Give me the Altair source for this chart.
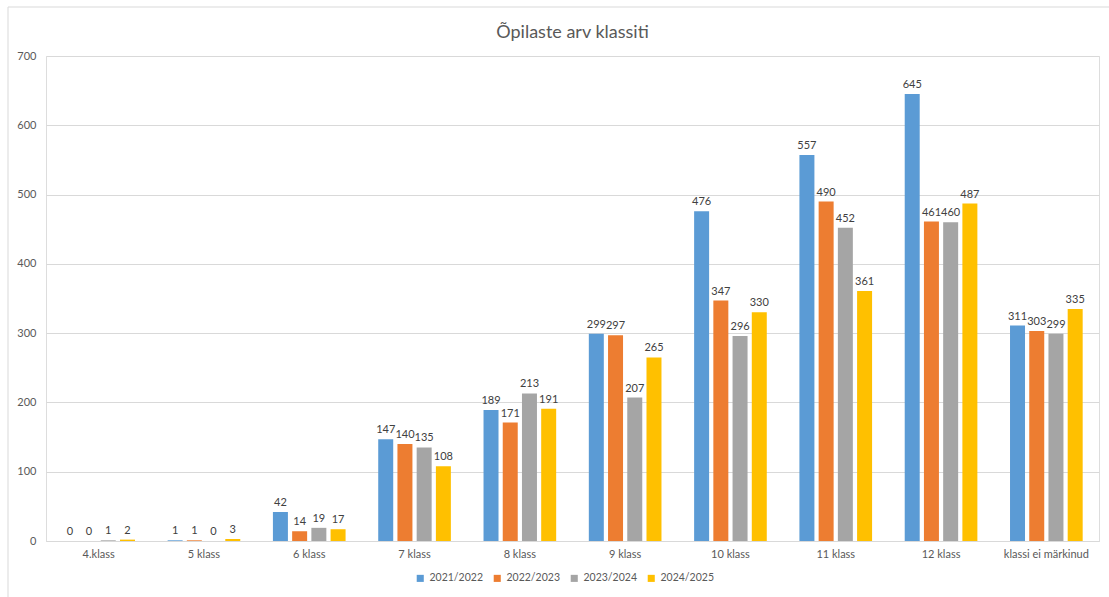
import altair as alt
import pandas as pd

# Student counts per grade, one series per school year
grades = ["4.klass", "5 klass", "6 klass", "7 klass", "8 klass", "9 klass",
          "10 klass", "11 klass", "12 klass", "klassi ei märkinud"]
years = ["2021/2022", "2022/2023", "2023/2024", "2024/2025"]
y2021 = [0, 1, 42, 147, 189, 299, 476, 557, 645, 311]
y2022 = [0, 1, 14, 140, 171, 297, 347, 490, 461, 303]
y2023 = [1, 0, 19, 135, 213, 207, 296, 452, 460, 299]
y2024 = [2, 3, 17, 108, 191, 265, 330, 361, 487, 335]
colors = ["#5B9BD5", "#ED7D31", "#A5A5A5", "#FFC000"]

rows = []
for year, series in zip(years, [y2021, y2022, y2023, y2024]):
    for g, v in zip(grades, series):
        rows.append({"klass": g, "aasta": year, "arv": v})
df = pd.DataFrame(rows)

FONT = "Lato"
TXT = "#595959"

x_enc = alt.X("klass:N", sort=grades, title=None,
              scale=alt.Scale(paddingInner=0.31, paddingOuter=0.155),
              axis=alt.Axis(labelAngle=0, labelPadding=7, ticks=False,
                            domainColor="#D9D9D9", labelColor=TXT,
                            labelFontSize=11, labelFont=FONT))
xo_enc = alt.XOffset("aasta:N", sort=years, scale=alt.Scale(paddingInner=0.22))
y_enc = alt.Y("arv:Q", title=None,
              scale=alt.Scale(domain=[0, 700]),
              axis=alt.Axis(values=list(range(0, 701, 100)), domain=False,
                            ticks=False, labelPadding=10, gridColor="#D9D9D9",
                            labelColor=TXT, labelFontSize=11, labelFont=FONT))

# light frame around the whole chart
frame = alt.Chart(pd.DataFrame({"a": [0]})).mark_rect(
    fillOpacity=0, stroke="#D9D9D9", strokeWidth=1
).encode(x=alt.value(-38), x2=alt.value(1070), y=alt.value(-49), y2=alt.value(560))

bars = alt.Chart(df).mark_bar().encode(
    x=x_enc, xOffset=xo_enc, y=y_enc,
    color=alt.Color("aasta:N", sort=years,
                    scale=alt.Scale(domain=years, range=colors),
                    legend=alt.Legend(title=None, orient="none", direction="horizontal",
                                      legendX=369, legendY=517,
                                      symbolType="square", symbolSize=50,
                                      symbolStrokeWidth=0, labelFontSize=10.5,
                                      labelColor=TXT, labelFont=FONT,
                                      columnPadding=9)),
)

labels = alt.Chart(df).mark_text(dy=-9, fontSize=11, color="#404040", font=FONT).encode(
    x=x_enc, xOffset=xo_enc, y=y_enc, text="arv:Q"
)

chart = alt.layer(frame, bars, labels).properties(
    width=1053, height=485,
    title=alt.TitleParams("Õpilaste arv klassiti", fontSize=18, font=FONT,
                          color=TXT, fontWeight="normal", offset=-35),
    autosize=alt.AutoSizeParams(type="none"),
    padding={"left": 46, "top": 56, "right": 10, "bottom": 56},
).configure_view(stroke=None).configure(background="white")

chart.save("out.html", embed_options={"renderer": "svg", "actions": False})
